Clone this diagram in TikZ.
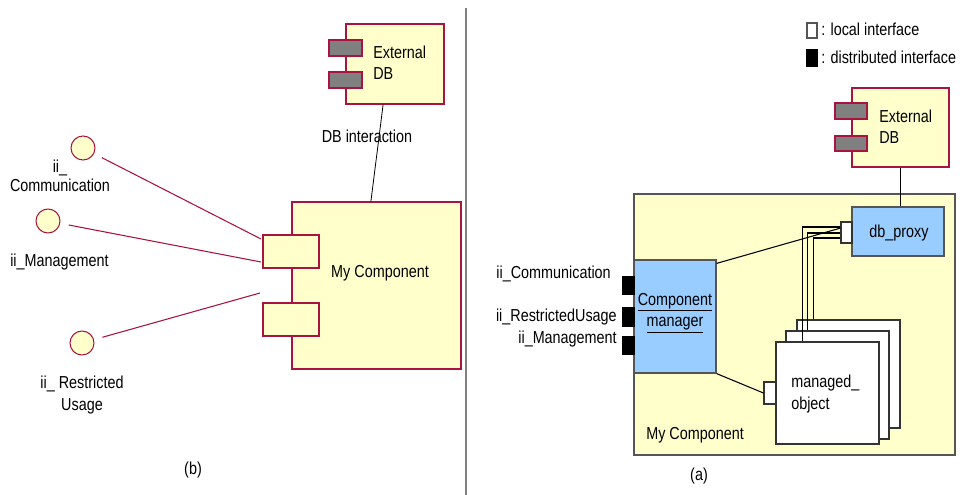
\documentclass[tikz,border=0pt]{standalone}
\usepackage{fontspec}
\setmainfont{Liberation Sans}[FakeStretch=0.83]
\usepackage{xcolor}
\usetikzlibrary{positioning,calc,fit}
\definecolor{pyellow}{HTML}{FFFFCC}
\definecolor{pcrimson}{HTML}{A8143F}
\definecolor{pblue}{HTML}{99CCFF}
\definecolor{pgray}{HTML}{808080}
\definecolor{pgrayd}{HTML}{555555}
\tikzset{
  % component boxes: yellow with crimson stroke
  comp/.style  = {rectangle, draw=pcrimson, fill=pyellow, line width=0.8pt, inner sep=0pt},
  gport/.style = {rectangle, draw=pcrimson, fill=pgray, line width=0.8pt, inner sep=0pt},
  iface/.style = {circle, draw=pcrimson, fill=pyellow, line width=0.8pt, inner sep=0pt,
                  minimum size=18pt},
  outer/.style = {rectangle, draw=pgrayd, fill=pyellow, line width=0.9pt, inner sep=0pt},
  part/.style  = {rectangle, draw=pgrayd, fill=pblue, line width=0.9pt, inner sep=0pt},
  obj/.style   = {rectangle, draw=black!80, fill=white, line width=0.9pt, inner sep=0pt},
  lport/.style = {rectangle, draw=black!80, fill=white, line width=0.8pt, inner sep=0pt},
  dport/.style = {rectangle, draw=black, fill=black, line width=0.8pt, inner sep=0pt},
  rwire/.style = {pcrimson, line width=0.8pt, shorten <=6.5pt},
  link/.style  = {black, line width=0.8pt},
  bus/.style   = {black, line width=1.3pt},
  tag/.style   = {inner sep=0pt, align=left},
  ctag/.style  = {inner sep=0pt, align=center},
}
\begin{document}
\begin{tikzpicture}[x=0.75pt, y=-0.75pt, font=\fontsize{13}{16}\selectfont]
\useasboundingbox (0,0) rectangle (962,495);

% ---------------- (b) ----------------
\node[comp, fit={(292,202)(461,369)}] (mycB) {};
\node[comp, fit={(263,235)(319,268)}] (mycBp1) {};
\node[comp, fit={(263,303)(319,336)}] (mycBp2) {};
\node[tag] (mycBlbl) at (380,273) {My Component};

\node[comp, fit={(346,24)(444,104)}] (xdbB) {};
\node[gport, fit={(329,40)(362,56)}] (xdbBp1) {};
\node[gport, fit={(329,72)(362,88)}] (xdbBp2) {};
\node[tag, anchor=west] (xdbBlbl) at (373,62.5) {External\\DB};

\draw[link, line width=0.6pt] ($(xdbB.south west)!0.38!(xdbB.south east)$)
      -- ($(mycB.north west)!0.467!(mycB.north east)$);
\node[tag] (dbint) at (367,136) {DB interaction};

% provided interfaces
\node[iface] (ifcom) at (83,148) {};
\node[iface] (ifman) at (48,221) {};
\node[iface] (ifres) at (82,343) {};
\coordinate (ecom) at (261,239);
\coordinate (eman) at (261,262);
\coordinate (eres) at (260,293);
\draw[rwire] (ifcom) -- (ecom);
\draw[rwire] (ifman) -- (eman);
\draw[rwire] (ifres) -- (eres);
\node[ctag, font=\fontsize{13}{14.5}\selectfont] (ifcomlbl) at (60,175.5) {ii\_\\Communication};
\node[tag, anchor=west] (ifmanlbl) at (10,262) {ii\_Management};
\node[ctag] (ifreslbl) at (82,395) {ii\_ Restricted\\Usage};

\node[ctag] (capb) at (193,470) {(b)};

% separator
\draw[pgray, line width=1.2pt] (466,8) -- (466,495);

% ---------------- (a) ----------------
% legend
\node[lport, draw=pgrayd, fit={(807,23)(817,38)}] (keyl) {};
\node[tag, anchor=west] (keyllbl) at (821,29.5) {: local interface};
\node[dport, fit={(807,50)(817,66)}] (keyd) {};
\node[tag, anchor=west] (keydlbl) at (821,57) {: distributed interface};

\node[comp, fit={(852,88)(949,167)}] (xdbA) {};
\node[gport, fit={(835,103)(867,119)}] (xdbAp1) {};
\node[gport, fit={(835,136)(867,151)}] (xdbAp2) {};
\node[tag, anchor=west] (xdbAlbl) at (879,126.5) {External\\DB};

\node[outer, fit={(634,194)(955,455)}] (mycA) {};
\node[tag, anchor=west] (mycAlbl) at (646,435) {My Component};

\node[part, fit={(852,207)(944,256)}] (proxy) {};
\node[tag] (proxylbl) at (899,233) {db\_proxy};
\node[lport, fit={(841,222)(852,243)}] (pport) {};

\draw[bus] (xdbA.south) -- (xdbA.south |- proxy.north);

\node[part, fit={(634,260)(716,373)}] (mgr) {};
\node[ctag] (mgrlbl) at (675,313) {\underline{Component}\\\underline{manager}};

\node[dport, fit={(623,277)(634,294)}] (dpcom) {};
\node[dport, fit={(623,308)(634,326)}] (dpres) {};
\node[dport, fit={(623,337)(634,354)}] (dpman) {};
\node[tag, anchor=east] (dpcomlbl) at (611,274) {ii\_Communication};
\node[tag, anchor=east] (dpreslbl) at (617,317) {ii\_RestrictedUsage};
\node[tag, anchor=east] (dpmanlbl) at (617,339) {ii\_Management};

% stack of managed objects
\node[obj, fit={(797,320)(900,428)}] (moC) {};
\node[obj, fit={(786,331)(889,439)}] (moB) {};
\node[obj, fit={(776,342)(879,444)}] (moA) {};
\node[lport, fit={(764,382)(776,404)}] (mport) {};
\node[tag, anchor=west] (molbl) at (791,394) {managed\_\\object};

\draw[link] ($(mgr.north east)+(0,4)$)
      -- ($(pport.north west)!0.3!(pport.south west)$);
\draw[link] (mgr.south east) -- (mport.west);
\draw[bus] ($(pport.north west)!0.24!(pport.south west)$) -| ($(moA.north west)+(27,0)$);
\draw[bus] ($(pport.north west)!0.52!(pport.south west)$) -| ($(moB.north west)+(22,0)$);
\draw[bus] ($(pport.north west)!0.76!(pport.south west)$) -| ($(moC.north west)+(17,0)$);

\node[ctag] (capa) at (699,476) {(a)};
\end{tikzpicture}
\end{document}
